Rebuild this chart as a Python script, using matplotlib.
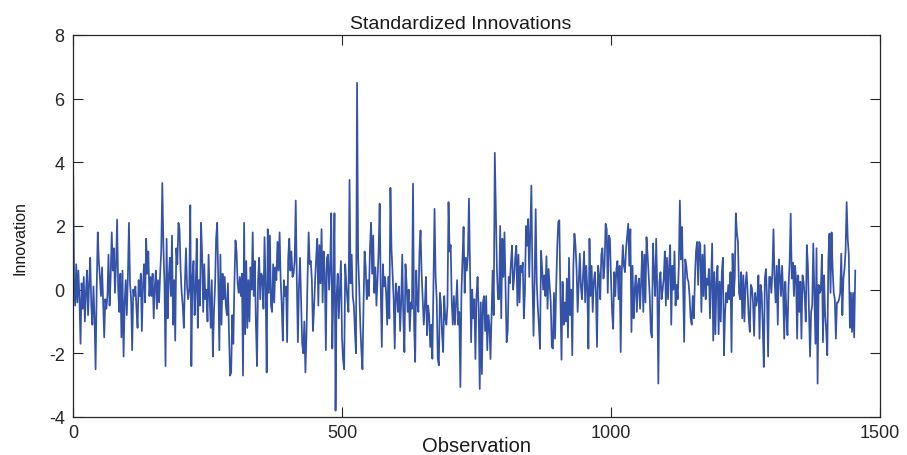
import numpy as np
import matplotlib
matplotlib.use("Agg")
import matplotlib.pyplot as plt

# Standardized innovations (every 2nd observation)
seg1 = [4.4, 0.3, -0.5, 0.8, -0.4, 0.6, -0.3, -1.7, 0.2, -0.6, 0.4, -1.0, -0.1, 0.6, -0.8, 0.2,
        1.0, -0.5, -1.1, 0.1, -0.9, -2.5, 0.0, 1.8, 0.9, 0.4, -0.2, 0.7, -0.4, -1.5, -0.3, -0.6,
        -0.2, 1.1, -0.5, 0.4, 1.8, 0.6, 1.3, -0.1, 0.8, 2.2, 0.0, -0.7, 0.5, -1.5, 0.6, -2.1,
        -0.4, 0.3, -0.8, 0.4, 2.1, 0.2, -0.3, -1.9, 0.0, -0.2, 0.1, -0.6, -1.2, 0.3, -0.2, 0.5,
        -1.3, 0.1, 0.8, -0.4, 1.6, 0.5, 1.2, -0.2, 0.4]
seg2 = [-0.2, 0.5, -0.9, 0.1, 0.6, -0.6, 0.3, -0.4, 0.5, 1.2, 3.35, 1.4, 0.2, -2.4, 1.6, -0.9,
        0.4, 1.0, -0.2, 1.7, -1.1, 0.3, -1.6, 1.3, 0.8, 2.1, 1.9, 0.6, -0.1, -0.5, -1.2, 0.2,
        1.3, 0.1, -0.3, 0.0, 2.65, -2.4, 0.4, 0.9, -0.8, 0.0, 1.6, -1.2, 0.3, -0.5, 2.1, 1.1,
        -0.7, 0.8, -0.3, 0.0, -1.0, 1.1, -0.2, -1.2, 0.3, -2.1, -0.7, 0.1, 1.6, 2.1, 0.3, -1.9,
        1.1, -1.1, 0.5, -0.3, 0.4, -0.5, -0.8, 0.2, -1.4, -2.7]
seg3 = [-2.6, -0.8, -1.7, 0.2, 1.55, 1.2, 0.2, -0.1, 0.4, -0.2, 0.5, -2.7, 2.1, -1.4, 0.9, -1.2,
        0.3, -1.0, 0.7, 0.0, 1.8, -0.2, 0.9, -1.1, -2.4, 0.3, 1.0, -0.3, 0.5, 0.4, -0.6, 1.65,
        0.1, -2.6, 1.9, -0.1, 1.7, -0.5, -0.7, 0.8, -0.4, 0.7, 0.3, 1.5, 0.6, 1.8, 0.3, -0.5,
        -1.6, 0.3, -0.2, 0.1, -1.65, 1.0, 1.6, 0.6, 1.2, 0.4, 0.5, 0.9, 2.8, 0.3, -1.65, 0.1,
        1.0, -0.4, -1.7, -2.0, -1.0, -2.6, -1.4, 0.4, 1.8, 0.8]
seg4 = [0.9, 0.3, -1.3, -0.6, 0.3, 1.0, 1.6, -0.5, 1.4, 0.2, 1.9, -0.4, 1.2, 0.5, -1.9, 1.0,
        1.1, 0.0, 0.7, 2.4, -1.85, 0.0, 2.4, -3.8, -0.2, 0.5, -0.9, 0.0, 0.9, -1.5, -2.2, -2.5,
        0.8, 0.2, -0.3, -0.7, 3.45, 0.2, 1.1, -0.2, -0.5, -1.3, -2.0, 6.5, 1.0, 0.1, -1.1, -1.9,
        -2.5, -0.5, 1.2, 0.7, -0.3, 0.3, -0.2, 1.3, 2.1, 0.5, 1.7, -0.1, 0.7, -0.5, 0.3, 1.2,
        2.7, 0.0, -1.8, 0.8, 0.1, 0.4, -0.1, -1.1, 0.4, -0.9, 3.2]
seg5 = [1.3, 0.5, -0.3, -1.85, 0.2, -0.1, -0.7, 0.1, -1.3, -0.4, 1.1, -0.9, -1.96, 0.8, 0.2, -0.7,
        0.0, -1.3, -0.4, -0.6, 3.33, -1.1, -2.27, 0.6, -0.4, -0.7, 1.2, 1.86, 0.5, -0.3, -1.1, -0.5,
        0.4, -1.43, -0.5, -0.8, -1.8, -1.1, -2.17, 0.1, 2.54, 0.4, -0.3, -2.17, -2.38, -0.1, -0.5, -1.4,
        -1.96, -0.2, -0.9, -1.1, -0.5, 2.75, 1.2, 1.4, -0.4, -1.1, -0.2, -1.1, -0.4, 0.3, -1.1, -0.7,
        -3.06, -0.1, 1.0, 1.97, -0.1, 1.0, 0.6, 1.1, 2.86, 0.7]
seg6 = [-1.65, 0.0, -0.9, -0.3, -2.18, -0.2, 0.4, -0.6, -3.12, -0.4, -2.65, -0.4, -0.2, -1.3, -0.2, -1.9,
        -0.8, -1.1, -2.18, -0.8, 0.6, -0.8, 4.3, 2.5, 0.6, -0.3, -0.3, 2.0, -0.9, 1.6, 0.4, 1.8,
        0.1, -1.65, -1.3, 0.4, 0.2, 0.85, 1.38, 0.0, 0.4, 1.0, 1.38, -0.5, 1.1, -0.4, 0.75, 0.55,
        0.85, -0.9, -0.1, 2.0, 1.38, 2.22, 0.4, 1.8, 3.27, 0.3, -1.45, 0.3, 2.53, 0.2, -0.55, -1.13,
        -1.86, 1.22, 0.65, 0.0, 0.45, -0.2, 1.05, -0.6, 0.65, 0.1]
seg7 = [-0.4, -1.8, -1.85, -0.1, -1.54, 0.0, 1.3, 2.13, 2.18, -0.3, -2.2, 0.25, -1.1, -0.4, -1.0, 0.35,
        -1.5, 1.0, -0.8, 0.0, -2.06, 0.75, 1.76, 1.4, 0.65, -0.7, 0.25, 1.13, 0.1, -0.3, 0.45, 1.2,
        -0.4, 0.75, 0.0, -1.85, 1.6, -0.2, 0.75, -0.7, 0.25, 0.55, -0.1, -1.8, 0.75, 0.45, -0.3, 1.1,
        1.3, 0.35, 0.75, 2.07, 1.9, -0.1, 1.7, 1.6, 0.35, -0.7, -1.23, 0.55, -0.2, 0.65, 0.9, -0.3,
        0.75, -1.96, 0.55, 1.4, 0.75, 0.55, 1.3, 1.7, 2.07, 0.75]
seg8 = [1.9, -1.33, 0.75, -0.9, 0.0, 0.45, -0.7, 0.15, 0.35, -0.6, 0.25, 1.2, -0.7, 1.1, -0.4, 1.65,
        1.1, 0.45, -0.2, -1.33, -1.5, 1.45, 0.55, -0.2, 1.6, 0.0, -2.95, 0.25, 0.55, -0.3, 0.0, 0.35,
        1.2, -0.5, 1.0, -0.3, 0.75, 1.4, -1.1, 0.75, 0.0, 1.2, -0.5, 0.15, -0.3, 0.75, 2.8, 0.95,
        1.97, 0.15, -1.64, 0.95, 0.75, 0.35, 0.25, -0.2, -0.9, -1.1, -0.2, -0.9, 0.35, 1.2, 1.5, 0.15,
        1.5, 1.4, -0.7, 1.1, -0.2, 1.4, -0.3, 0.35, 0.15, 0.65, -0.9]
seg9 = [0.3, 1.45, -1.6, 0.55, -1.4, 0.25, 0.75, -1.4, 0.25, -1.0, 0.55, 1.0, -2.06, -0.75, -0.1, -0.4,
        0.15, -0.3, 0.55, -1.96, 1.13, -0.2, 0.35, 2.4, 1.8, 1.5, -0.1, -0.3, 0.55, -0.9, 0.45, -1.0,
        0.15, 0.55, -0.1, -0.9, -1.33, 0.15, 0.05, -0.4, -1.45, -0.1, -0.5, -0.3, 0.45, -1.54, 0.15, -0.1,
        -1.1, -2.43, 0.35, 0.65, -0.3, -2.1, 0.4, 0.4, -0.1, 0.55, 1.9, 0.35, -0.4, 0.75, -1.1, 0.95,
        0.45, -0.2, 0.75, -0.1, -1.54, 0.25, -0.7, -1.43, 0.1, 0.85]
seg10 = [2.39, 0.35, 0.85, -0.2, 0.75, 0.35, -1.54, 0.45, -0.7, 0.25, -1.54, 0.45, 0.25, -0.2, -1.0, 1.4,
         0.75, -0.7, -2.1, -0.7, -0.5, 1.45, -0.1, -1.7, 1.3, -2.95, 0.15, -0.1, 0.0, 1.1, -1.65, 0.45,
         -0.8, -1.3, -2.06, 0.95, 1.76, -0.1, 1.8, 0.65, -0.1, -0.3, -1.54, -0.4, -0.4, -0.3, -0.1, 1.13,
         -0.8, 0.35, 0.65, 1.2, 2.75, 1.6, 1.1, -1.2, -0.1, -1.33, -0.1, -1.5, 0.6]

innovations = seg1 + seg2 + seg3 + seg4 + seg5 + seg6 + seg7 + seg8 + seg9 + seg10
obs_step = 2
observations = np.arange(len(innovations)) * obs_step

xticks = [0, 500, 1000, 1500]
yticks = [-4, -2, 0, 2, 4, 6, 8]

plt.rcParams['font.family'] = ['Liberation Sans', 'DejaVu Sans']
plt.rcParams['axes.unicode_minus'] = False

fig = plt.figure(figsize=(9.07, 4.56), dpi=100)
ax = fig.add_axes([73/907, 1 - 418/456, (880 - 73)/907, (418 - 36)/456])

ax.plot(observations, innovations, color='#3352A8', lw=1.25)

ax.set_xlim(0, 1500)
ax.set_ylim(-4, 8)
ax.set_xticks(xticks)
ax.set_yticks(yticks)
ax.tick_params(direction='in', top=True, right=True, length=7, width=0.8,
               labelsize=13, colors='#262626')
ax.tick_params(axis='x', pad=5)
ax.tick_params(axis='y', pad=6)
for s in ax.spines.values():
    s.set_color('#262626')
    s.set_linewidth(0.9)

ax.set_title('Standardized Innovations', fontsize=14, x=0.48, pad=5, color='#1a1a1a')
ax.set_xlabel('Observation', fontsize=14.5, color='#1a1a1a', va='bottom')
ax.xaxis.set_label_coords(0.5, -0.099)
ax.set_ylabel('Innovation', fontsize=11.5, color='#1a1a1a')
ax.yaxis.set_label_coords(-0.056, 0.47)

fig.savefig('out.png', dpi=100)
